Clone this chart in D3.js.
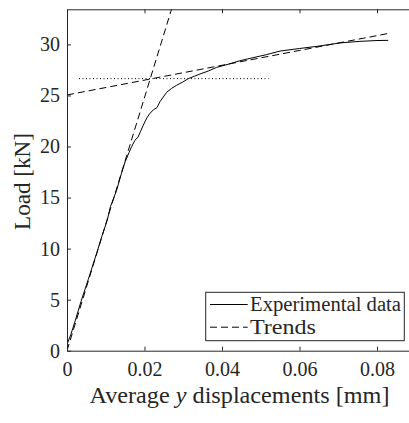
<!DOCTYPE html>
<html>
<head>
<meta charset="utf-8">
<script src="https://cdn.jsdelivr.net/npm/d3@7"></script>
<style>
  body { margin: 0; background: #fff; }
  svg text { font-family: "Liberation Serif", "DejaVu Serif", "Times New Roman", serif !important; fill: #262626; }
</style>
</head>
<body>
<div id="chart"></div>
<script>
// experimental load-displacement curve
var dispExp = [0, 0.0010, 0.0021, 0.0036, 0.0055, 0.0066, 0.0077, 0.0090, 0.0104, 0.0112, 0.0119, 0.0128,
  0.0140, 0.0150, 0.0160, 0.0167, 0.0175, 0.0183, 0.0190, 0.0197, 0.0206, 0.0213, 0.0223,
  0.0232, 0.0240, 0.0257, 0.0270, 0.0283, 0.0298, 0.0313, 0.0330, 0.0343, 0.0365, 0.0386, 0.0420,
  0.0446, 0.0480, 0.0515, 0.0550, 0.0600, 0.0653, 0.0705, 0.0756, 0.0800, 0.0829];
var loadExp = [0.6, 1.6, 2.9, 4.8, 7.0, 8.3, 9.6, 11.2, 12.8, 14.1, 14.8, 15.7,
  17.3, 18.5, 19.4, 20.0, 20.6, 20.9, 21.5, 22.1, 22.8, 23.2, 23.6,
  23.8, 24.4, 25.3, 25.7, 26.0, 26.3, 26.65, 26.9, 27.1, 27.4, 27.75, 28.1,
  28.4, 28.7, 29.0, 29.35, 29.6, 29.85, 30.15, 30.3, 30.38, 30.4];

// trend lines
var elasticTrend = { x: [0, 0.028], y: [0, 34.72] };
var plasticTrend = { x: [0, 0.083], y: [25.05, 31.08] };
var yieldLevel = 26.65, yieldFrom = 0.0031, yieldTo = 0.052;

var xTicks = [0, 0.02, 0.04, 0.06, 0.08];
var yTicks = [0, 5, 10, 15, 20, 25, 30];
var legendLabels = ["Experimental data", "Trends"];

var W = 409, H = 423;
var mLeft = 67, mTop = 9.3, mBottom = 350.7, mRight = 415.75;

var svg = d3.select("#chart").append("svg")
  .attr("width", W).attr("height", H);

var x = d3.scaleLinear().domain([0, 0.09]).range([mLeft, mRight]);
var y = d3.scaleLinear().domain([0, 33.44]).range([mBottom, mTop]);

svg.append("clipPath").attr("id", "clip")
  .append("rect").attr("x", mLeft).attr("y", mTop)
  .attr("width", mRight - mLeft).attr("height", mBottom - mTop);

var plot = svg.append("g").attr("clip-path", "url(#clip)");

var line = d3.line().x(function(d) { return x(d[0]); }).y(function(d) { return y(d[1]); });

plot.append("path")
  .datum(d3.zip(dispExp, loadExp))
  .attr("d", line)
  .attr("fill", "none").attr("stroke", "#000").attr("stroke-width", 1);

[elasticTrend, plasticTrend].forEach(function(t) {
  plot.append("path")
    .datum(d3.zip(t.x, t.y))
    .attr("d", line)
    .attr("fill", "none").attr("stroke", "#000").attr("stroke-width", 1)
    .attr("stroke-dasharray", "7,4");
});

plot.append("path")
  .datum([[yieldFrom, yieldLevel], [yieldTo, yieldLevel]])
  .attr("d", line)
  .attr("fill", "none").attr("stroke", "#000").attr("stroke-width", 1)
  .attr("stroke-dasharray", "1,2.5");

// axes, ticks inside like matlab
var fmt = function(d) { return d === 0 ? "0" : d3.format(".2f")(d); };
svg.append("g").attr("transform", "translate(0," + mBottom + ")")
  .call(d3.axisBottom(x).tickValues(xTicks).tickFormat(fmt).tickSizeInner(-4).tickSizeOuter(0).tickPadding(11));
svg.append("g").attr("transform", "translate(0," + mTop + ")")
  .call(d3.axisTop(x).tickValues(xTicks).tickFormat("").tickSizeInner(-4).tickSizeOuter(0));
svg.append("g").attr("transform", "translate(" + mLeft + ",0)")
  .call(d3.axisLeft(y).tickValues(yTicks).tickSizeInner(-4).tickSizeOuter(0).tickPadding(7));
svg.append("g").attr("transform", "translate(" + mRight + ",0)")
  .call(d3.axisRight(y).tickValues(yTicks).tickFormat("").tickSizeInner(-4).tickSizeOuter(0));

svg.selectAll("g").attr("font-family", null);
svg.selectAll(".domain, .tick line").attr("stroke", "#262626");
svg.selectAll(".tick text").style("font-size", "20px").attr("fill", "#262626");

svg.append("text")
  .attr("x", 239.5).attr("y", 403)
  .attr("text-anchor", "middle")
  .attr("textLength", 300).attr("lengthAdjust", "spacingAndGlyphs")
  .style("font-size", "23px")
  .html('Average <tspan font-style="italic">y</tspan> displacements [mm]');

svg.append("text")
  .attr("transform", "translate(29.5,181.5) rotate(-90)")
  .attr("text-anchor", "middle")
  .attr("textLength", 97).attr("lengthAdjust", "spacingAndGlyphs")
  .style("font-size", "23px")
  .text("Load [kN]");

// legend
var lg = svg.append("g");
lg.append("rect")
  .attr("x", 205.7).attr("y", 292.3).attr("width", 198.6).attr("height", 48.4)
  .attr("fill", "#fff").attr("stroke", "#262626").attr("stroke-width", 1);
legendLabels.forEach(function(lab, i) {
  var ly = 304.5 + i * 22.7;
  lg.append("line")
    .attr("x1", 210).attr("x2", 247.7).attr("y1", ly).attr("y2", ly)
    .attr("stroke", "#000").attr("stroke-width", 1)
    .attr("stroke-dasharray", i === 1 ? "7,4" : null);
  lg.append("text")
    .attr("x", 250).attr("y", ly).attr("dy", "0.33em")
    .attr("textLength", i === 0 ? 151 : 66).attr("lengthAdjust", "spacingAndGlyphs")
    .style("font-size", "20px")
    .text(lab);
});
</script>
</body>
</html>
